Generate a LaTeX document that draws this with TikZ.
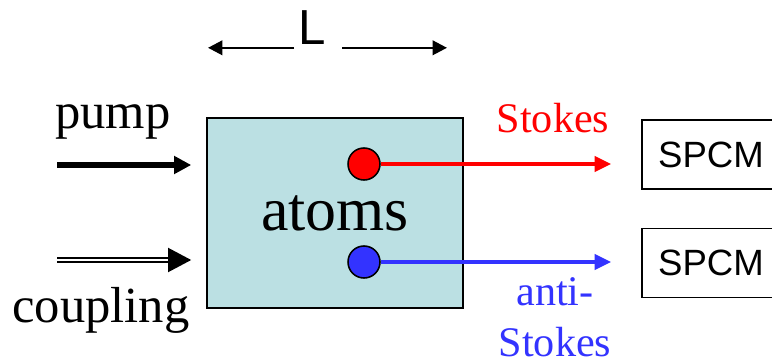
\documentclass[tikz,border=0pt]{standalone}
\usepackage{fontspec}
\setmainfont{Liberation Serif}
\setsansfont{Liberation Sans}
\usetikzlibrary{arrows.meta}
\definecolor{atomfill}{RGB}{187,224,227}
\definecolor{asblue}{RGB}{51,51,255}
\tikzset{
  beam/.style={line width=2.6pt,-{Triangle[length=0.42cm,width=0.38cm]}},
  inarrow/.style={line width=4pt,-{Triangle[length=0.43cm,width=0.43cm]}},
  dimarrow/.style={line width=1.8pt,-{Triangle[length=0.36cm,width=0.36cm]}},
  dot/.style={circle,draw=black,line width=1.1pt,minimum size=0.8cm,inner sep=0pt},
  detector/.style={draw=black,line width=1pt,minimum width=3.45cm,minimum height=1.725cm,
    font=\sffamily\fontsize{26}{30}\selectfont},
  biglabel/.style={font=\fontsize{36}{42}\selectfont},
  beamlabel/.style={font=\fontsize{30}{36}\selectfont,align=center}
}
\begin{document}
\begin{tikzpicture}
\useasboundingbox (0,0) rectangle (19.3,9.025);
\clip (0,0) rectangle (19.3,9.025);
% cell with the atomic ensemble
\node[draw=black,line width=1.1pt,fill=atomfill,minimum width=6.4cm,minimum height=4.75cm,
  font=\fontsize{44}{50}\selectfont] (atoms) at (8.375,3.7) {atoms};
\node[dot,fill=red] (sdot) at (9.1,4.925) {};
\node[dot,fill=asblue] (asdot) at (9.1,2.475) {};
% length of the cell
\node[font=\sffamily\fontsize{35}{40}\selectfont] (L) at (7.8,8.34) {L};
\coordinate (Lleft) at (5.2,7.83);
\coordinate (Lright) at (11.175,7.83);
\draw[dimarrow,shorten <=0.45cm] (L.center |- Lleft) -- (Lleft);
\draw[dimarrow,shorten <=0.75cm] (L.center |- Lright) -- (Lright);
% input beams
\node[biglabel] (pump) at (2.825,5.975) {pump};
\node[biglabel] (coupling) at (2.525,1.275) {coupling};
\coordinate (pumpin) at (1.425,4.9);
\coordinate (couplein) at (1.425,2.525);
\draw[inarrow,shorten >=0.375cm] (pumpin) -- (pumpin -| atoms.west);
\draw[double,line width=1.5pt,double distance=1.6pt,-{Triangle[length=0.58cm,width=0.6cm]},
  shorten >=0.375cm] (couplein) -- (couplein -| atoms.west);
% detectors
\node[detector] (spcm1) at (17.775,5.1625) {SPCM};
\node[detector] (spcm2) at (17.775,2.45) {SPCM};
\draw[beam,red,shorten >=0.75cm] (sdot) -- (sdot -| spcm1.west);
\draw[beam,asblue,shorten >=0.75cm] (asdot) -- (asdot -| spcm2.west);
\node[beamlabel,text=red] (stokes) at (13.825,6.075) {Stokes};
\node[beamlabel,text=asblue] (antistokes) at (13.875,1.1) {anti-\\Stokes};
\end{tikzpicture}
\end{document}
